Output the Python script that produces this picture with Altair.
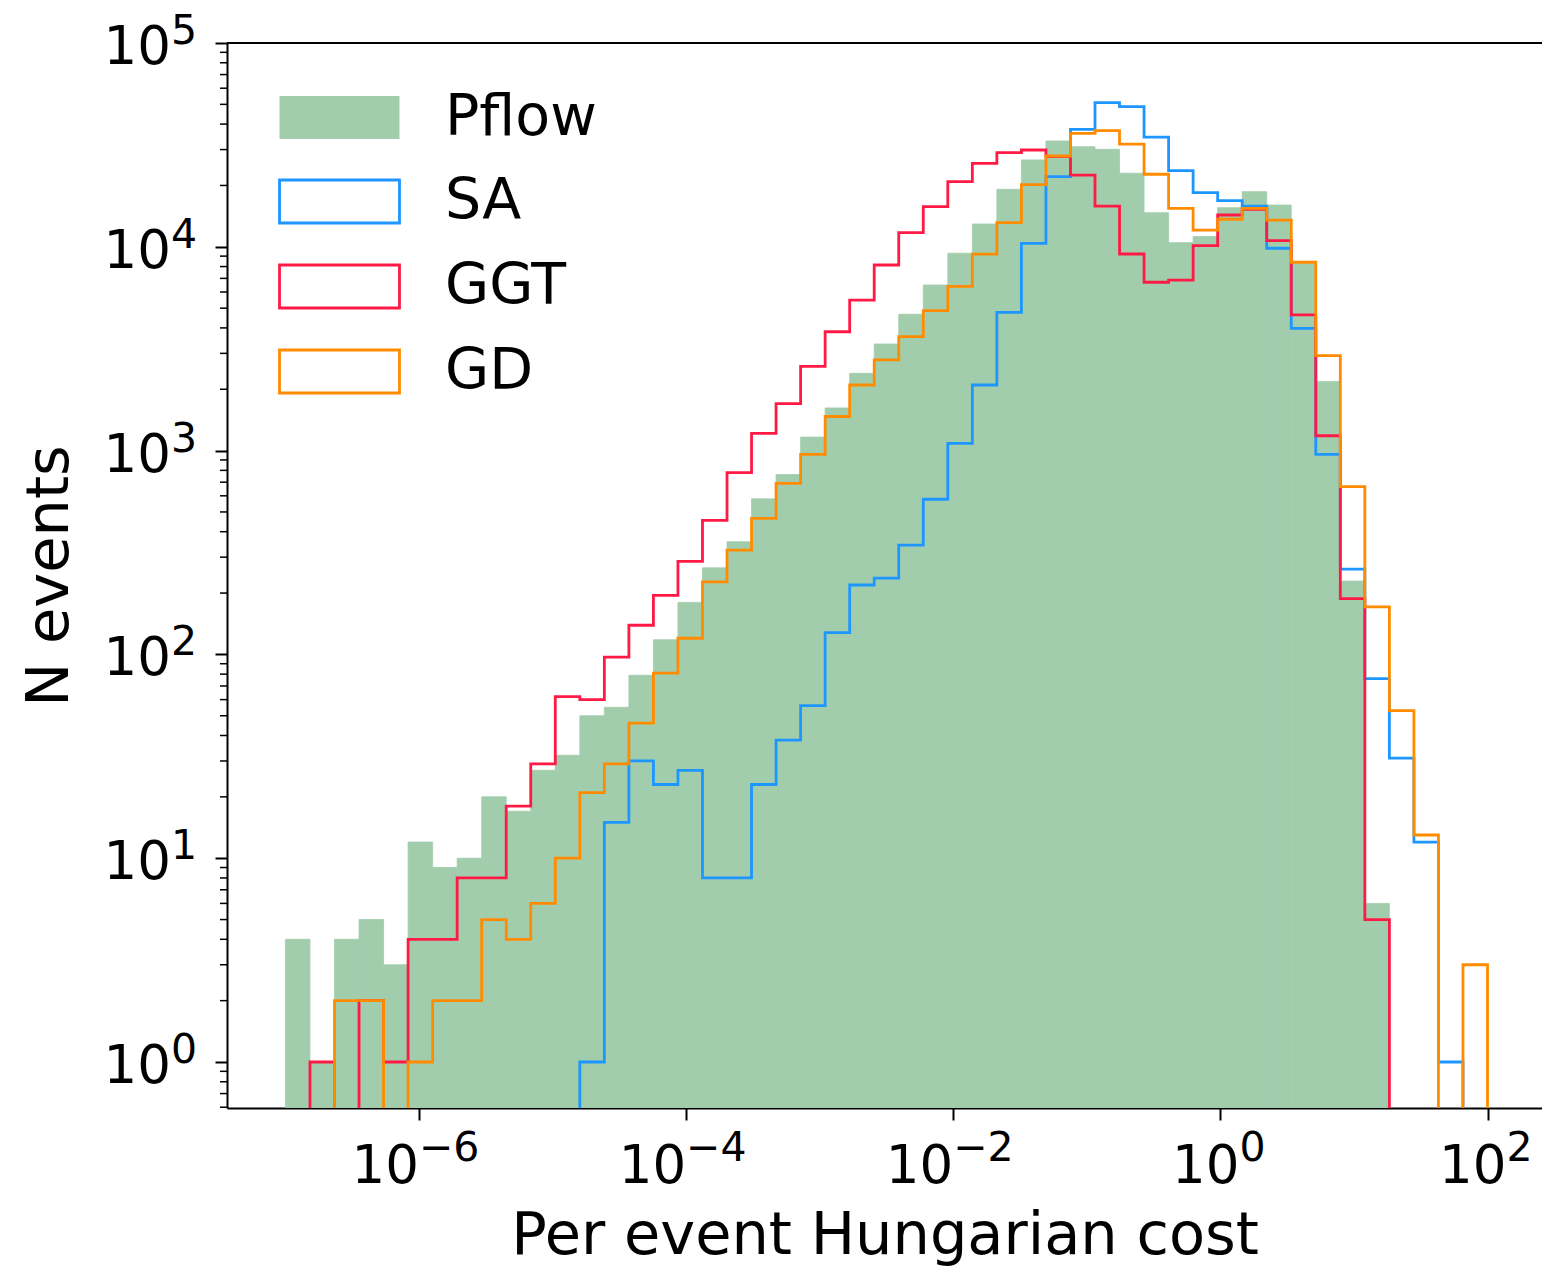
import altair as alt
import numpy as np
import pandas as pd

# ---------------- data ----------------
# 49 log-spaced bins between 1e-7 and 1e2 (bin edges)
bin_edges = np.logspace(-7, 2, 50)

pflow = [4, 1, 4, 5, 3, 12, 9, 10, 20, 17, 27, 32, 50, 55, 79, 118, 180, 266, 357, 580,
         763, 1165, 1620, 2395, 3335, 4667, 6496, 9300, 12940, 19150, 26700, 33050, 31000,
         30100, 22960, 14700, 10480, 11230, 15560, 18650, 16030, 8300, 2180, 229, 6, 0, 0, 0, 0]
sa = [0, 0, 0, 0, 0, 0, 0, 0, 0, 0, 0, 0, 1, 15, 30, 23, 27, 8, 8, 23, 38, 56, 128, 219, 237,
      344, 577, 1086, 2099, 4770, 10400, 22080, 37700, 50950, 48700, 34500, 23640, 18450,
      16840, 15850, 9840, 3980, 959, 262, 76, 31, 12, 1, 0]
ggt = [0, 1, 0, 2, 1, 4, 4, 8, 8, 18, 29, 62, 60, 97, 139, 195, 286, 455, 780, 1216, 1700,
       2590, 3830, 5480, 8140, 11730, 15730, 20860, 25680, 29000, 29850, 27700, 22500, 15850,
       9220, 6700, 6855, 10140, 14320, 15280, 10720, 4630, 1183, 188, 5, 0, 0, 0, 0]
gd = [0, 0, 2, 2, 0, 1, 2, 2, 5, 4, 6, 10, 21, 29, 46, 81, 120, 227, 325, 465, 691, 959, 1470,
      2099, 2786, 3625, 4860, 6400, 9200, 13130, 20200, 27900, 36050, 37150, 31930, 22700,
      15450, 12080, 13650, 15450, 13520, 8400, 2923, 665, 171, 53, 13, 0, 3]

fill_names = ["Pflow"]
fill_colors = ["#a2cdac"]
line_names = ["SA", "GGT", "GD"]
line_colors = ["#1e96ff", "#ff1a46", "#ff8c00"]

x_ticks = [1e-6, 1e-4, 1e-2, 1.0, 1e2]
x_exps = ["\u22126", "\u22124", "\u22122", "0", "2"]
y_ticks = [1, 10, 100, 1000, 10000, 100000]
y_exps = ["0", "1", "2", "3", "4", "5"]

Y_MIN = 10 ** -0.2257
Y_MAX = 1e5
X_MIN = 10 ** -7.4375
X_MAX = 10 ** 2.408
FLOOR = 0.1  # stand-in for empty bins (below the visible range, clipped)

y_minor = [m * 10.0 ** d for d in range(-1, 5) for m in range(2, 10)]
y_minor = [v for v in y_minor if Y_MIN <= v <= Y_MAX]


def step_frame(name, counts):
    rows = [{"series": name, "x": bin_edges[0], "y": FLOOR, "k": 0}]
    k = 1
    for i, c in enumerate(counts):
        v = c if c > 0 else FLOOR
        rows.append({"series": name, "x": bin_edges[i], "y": v, "k": k})
        k += 1
        rows.append({"series": name, "x": bin_edges[i + 1], "y": v, "k": k})
        k += 1
    rows.append({"series": name, "x": bin_edges[-1], "y": FLOOR, "k": k})
    return pd.DataFrame(rows)


def bar_frame(name, counts):
    rows = []
    for i, c in enumerate(counts):
        if c > 0:
            rows.append({"series": name, "lo": bin_edges[i], "hi": bin_edges[i + 1],
                         "y": c, "base": FLOOR})
    return pd.DataFrame(rows)


# ---------------- scales / axes ----------------
xscale = alt.Scale(type="log", domain=[X_MIN, X_MAX], nice=False)
yscale = alt.Scale(type="log", domain=[Y_MIN, Y_MAX], nice=False)

FONT = "DejaVu Sans"
TICK_FS = 53
EXP_FS = 41
LINE_W = 2.8

xaxis = alt.Axis(values=x_ticks, labels=False, grid=False, tickSize=12,
                 title="Per event Hungarian cost", titleFontSize=59, titleFontWeight="normal",
                 titleY=145, titleBaseline="alphabetic", titleFont=FONT, titleColor="black",
                 domainColor="black", tickColor="black", domainWidth=2, tickWidth=2)
yaxis = alt.Axis(values=y_ticks, labels=False, grid=False, tickSize=12,
                 title="N events", titleFontSize=59, titleFontWeight="normal",
                 titleX=-160, titleY=532.5, titleAngle=270, titleBaseline="alphabetic",
                 titleAlign="center", titleFont=FONT, titleColor="black",
                 domainColor="black", tickColor="black", domainWidth=2, tickWidth=2)

RECT = "M-2.79,-1H2.79V1H-2.79Z"
legend_common = dict(
    title=None, orient="none", padding=0,
    symbolType=RECT, symbolSize=1849,
    labelFont=FONT, labelFontSize=57, labelColor="black", labelOffset=77,
    labelBaseline="middle", rowPadding=27, labelLimit=0, symbolOpacity=1,
)
fill_legend = alt.Legend(legendX=84, legendY=46, symbolStrokeWidth=0, **legend_common)
stroke_legend = alt.Legend(legendX=84, legendY=130, symbolStrokeWidth=LINE_W,
                           symbolFillColor="transparent", **legend_common)

fill_enc = alt.Fill("series:N", scale=alt.Scale(domain=fill_names, range=fill_colors),
                    legend=fill_legend)
stroke_enc = alt.Stroke("series:N", scale=alt.Scale(domain=line_names, range=line_colors),
                        legend=stroke_legend)

# ---------------- layers ----------------
pflow_layer = alt.Chart(bar_frame("Pflow", pflow)).mark_rect(
    clip=True, opacity=1, strokeWidth=0.8, stroke=fill_colors[0]).encode(
    x=alt.X("lo:Q", scale=xscale, axis=xaxis),
    x2="hi:Q",
    y=alt.Y("y:Q", scale=yscale, axis=yaxis),
    y2="base:Q",
    fill=fill_enc,
)

line_layers = []
for name, counts in [("SA", sa), ("GGT", ggt), ("GD", gd)]:
    line_layers.append(
        alt.Chart(step_frame(name, counts)).mark_line(
            clip=True, strokeWidth=LINE_W, strokeJoin="miter").encode(
            x=alt.X("x:Q", scale=xscale, axis=xaxis),
            y=alt.Y("y:Q", scale=yscale, axis=yaxis),
            order="k:Q",
            stroke=stroke_enc,
        )
    )

minor_layer = alt.Chart(pd.DataFrame({"m": y_minor})).mark_rule(
    color="black", strokeWidth=1.5).encode(
    y=alt.Y("m:Q", scale=yscale, axis=yaxis),
    x=alt.value(-7),
    x2=alt.value(0),
)

top_spine = alt.Chart(pd.DataFrame({"t": [Y_MAX]})).mark_rule(
    color="black", strokeWidth=2).encode(
    y=alt.Y("t:Q", scale=yscale, axis=yaxis),
)

# tick labels drawn as "10" plus a raised, smaller exponent (matplotlib mathtext style)
xlab = pd.DataFrame({"v": x_ticks, "exp": x_exps})
xlab_neg = xlab[xlab["exp"].str.startswith("\u2212")]
xlab_pos = xlab[~xlab["exp"].str.startswith("\u2212")]


def x_label_layers(df, shift):
    base = alt.Chart(df).mark_text(
        text="10", font=FONT, fontSize=TICK_FS, align="right", baseline="alphabetic",
        dx=shift, color="black").encode(
        x=alt.X("v:Q", scale=xscale, axis=xaxis), y=alt.value(1140))
    exp = alt.Chart(df).mark_text(
        font=FONT, fontSize=EXP_FS, align="left", baseline="alphabetic",
        dx=shift, color="black").encode(
        x=alt.X("v:Q", scale=xscale, axis=xaxis), y=alt.value(1118), text="exp:N")
    return [base, exp]


ylab = pd.DataFrame({"v": y_ticks, "exp": y_exps})
ylab_base = alt.Chart(ylab).mark_text(
    text="10", font=FONT, fontSize=TICK_FS, align="right", baseline="alphabetic",
    dy=21, color="black").encode(
    y=alt.Y("v:Q", scale=yscale, axis=yaxis), x=alt.value(-56))
ylab_exp = alt.Chart(ylab).mark_text(
    font=FONT, fontSize=EXP_FS, align="left", baseline="alphabetic",
    dy=1, color="black").encode(
    y=alt.Y("v:Q", scale=yscale, axis=yaxis), x=alt.value(-56), text="exp:N")

label_layers = x_label_layers(xlab_neg, 0) + x_label_layers(xlab_pos, 19) + [ylab_base, ylab_exp]

chart = alt.layer(pflow_layer, *line_layers, minor_layer, top_spine, *label_layers).properties(
    width=1315,
    height=1065,
    autosize=alt.AutoSizeParams(type="none"),
    padding={"left": 227, "top": 43, "right": 0, "bottom": 159},
    background="white",
).configure_view(
    stroke=None
).configure_axis(
    labelFont=FONT, titleFont=FONT, labelColor="black", titleColor="black",
    domainColor="black", tickColor="black", domainWidth=2, tickWidth=2,
)

chart.save("out.html", embed_options={"renderer": "svg", "actions": False})
